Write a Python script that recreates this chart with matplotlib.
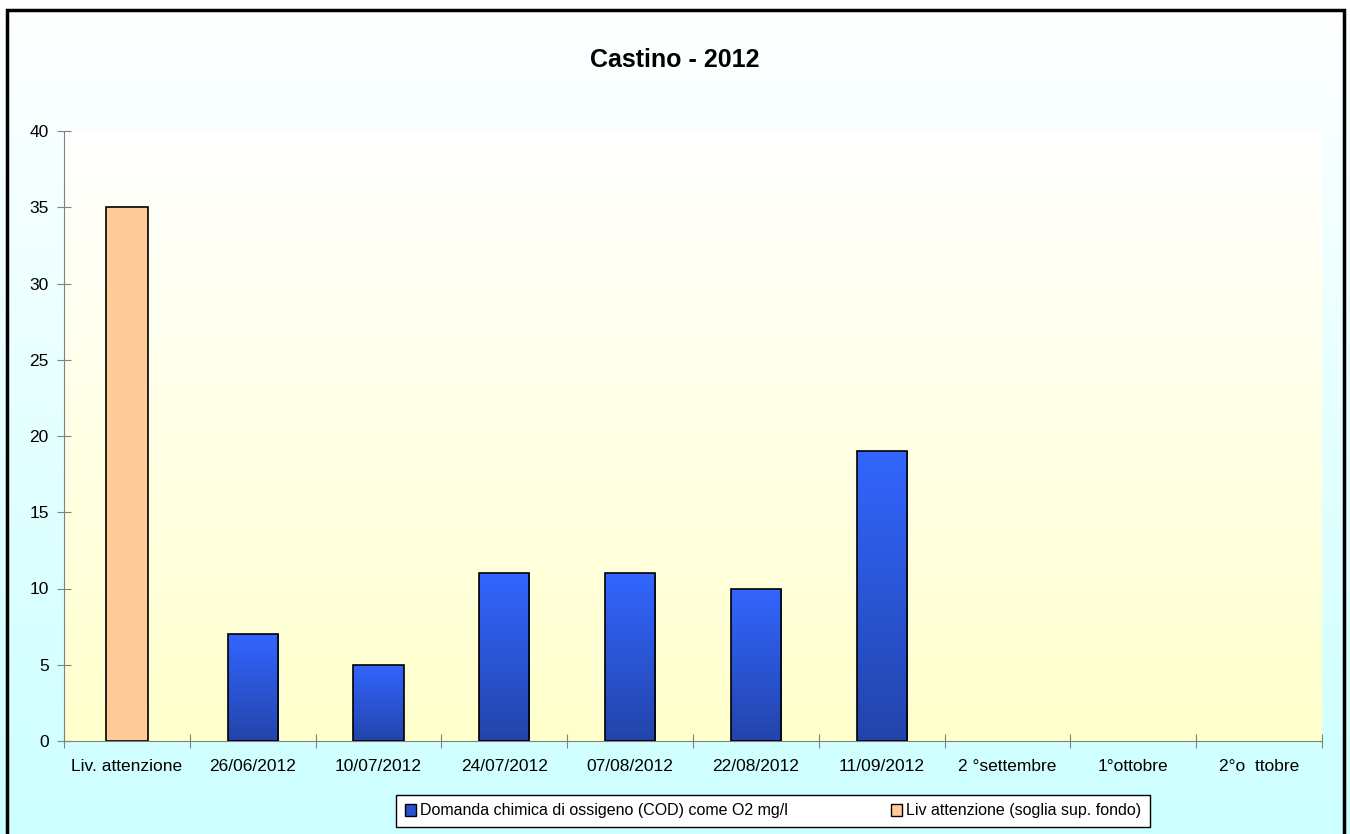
import numpy as np
import matplotlib
matplotlib.use('Agg')
import matplotlib.pyplot as plt
from matplotlib.patches import Rectangle, Patch
from matplotlib.colors import LinearSegmentedColormap

plt.rcParams['font.family'] = ['Liberation Sans', 'DejaVu Sans']

categories = ['Liv. attenzione', '26/06/2012', '10/07/2012', '24/07/2012', '07/08/2012',
              '22/08/2012', '11/09/2012', '2 °settembre', '1°ottobre', '2°o  ttobre']
cod_values = [np.nan, 7, 5, 11, 11, 10, 19, np.nan, np.nan, np.nan]
soglia_values = [35, np.nan, np.nan, np.nan, np.nan, np.nan, np.nan, np.nan, np.nan, np.nan]
y_ticks = [0, 5, 10, 15, 20, 25, 30, 35, 40]

fig = plt.figure(figsize=(13.5, 8.34), dpi=100)

# figure background: white to light cyan
bg = fig.add_axes([0, 0, 1, 1], zorder=-10)
grad = np.linspace(0, 1, 256).reshape(-1, 1)
bg.imshow(grad, aspect='auto', extent=[0, 1, 0, 1], origin='upper',
          cmap=LinearSegmentedColormap.from_list('fig', ['#ffffff', '#ccffff']))
bg.set_xlim(0, 1)
bg.set_ylim(0, 1)
bg.axis('off')

ax = fig.add_axes([64 / 1350, 1 - 741 / 834, (1322 - 64) / 1350, (741 - 131) / 834])
ax.patch.set_alpha(0)
n = len(categories)
x = np.arange(n)
ax.set_xlim(-0.5, n - 0.5)
ax.set_ylim(0, 40)

# plot area: white to light yellow
ax.imshow(grad, aspect='auto', extent=[-0.5, n - 0.5, 0, 40], origin='upper', zorder=0,
          cmap=LinearSegmentedColormap.from_list('plot', ['#ffffff', '#ffffcc']))

blue_cmap = LinearSegmentedColormap.from_list('blue', ['#3366ff', '#2244aa'])
bars = ax.bar(x, cod_values, width=0.40, color='none', edgecolor='black', linewidth=1.2, zorder=3)
for b in bars:
    h = b.get_height()
    if np.isnan(h) or h == 0:
        continue
    im = ax.imshow(grad, aspect='auto', cmap=blue_cmap, origin='upper', zorder=2,
                   extent=[b.get_x(), b.get_x() + b.get_width(), 0, h])
    im.set_clip_path(b)
ax.bar(x, soglia_values, width=0.33, color='#ffcc99', edgecolor='black', linewidth=1.2, zorder=3)

ax.set_xlim(-0.5, n - 0.5)
ax.set_ylim(0, 40)

for side in ['top', 'right']:
    ax.spines[side].set_visible(False)
for side in ['left', 'bottom']:
    ax.spines[side].set_color('#808080')

ax.set_yticks(y_ticks)
ax.set_xticks(np.arange(-0.5, n, 1.0))
ax.set_xticklabels([])
ax.set_xticks(x, minor=True)
ax.set_xticklabels(categories, minor=True, fontsize=12.5)
ax.tick_params(axis='x', which='major', direction='inout', length=10, color='#808080')
ax.tick_params(axis='x', which='minor', length=0, pad=13)
ax.tick_params(axis='y', direction='inout', length=10, color='#808080', labelsize=12.5, pad=6)

fig.text(0.5, 1 - 60 / 834, 'Castino - 2012', ha='center', va='center',
         fontsize=18, fontweight='bold')

handles = [Patch(facecolor='#2850d0', edgecolor='black', label='Domanda chimica di ossigeno (COD) come O2 mg/l'),
           Patch(facecolor='#ffcc99', edgecolor='black', label='Liv attenzione (soglia sup. fondo)')]
leg = fig.legend(handles=handles, loc='center', bbox_to_anchor=(773 / 1350, 1 - 811 / 834),
                 ncol=2, fontsize=11.5, frameon=True, fancybox=False, framealpha=1,
                 handlelength=0.7, handleheight=0.7, handletextpad=0.2, columnspacing=6.5,
                 borderpad=0.55, borderaxespad=0)
leg.get_frame().set_edgecolor('black')
leg.get_frame().set_facecolor('white')
leg.get_frame().set_linewidth(1)

# outer border
fig.patches.append(Rectangle((7 / 1350, -0.05), (1344 - 7) / 1350, 1.05 - 10 / 834,
                             transform=fig.transFigure, fill=False, edgecolor='black',
                             linewidth=2.5))

fig.savefig('out.png', dpi=100)
